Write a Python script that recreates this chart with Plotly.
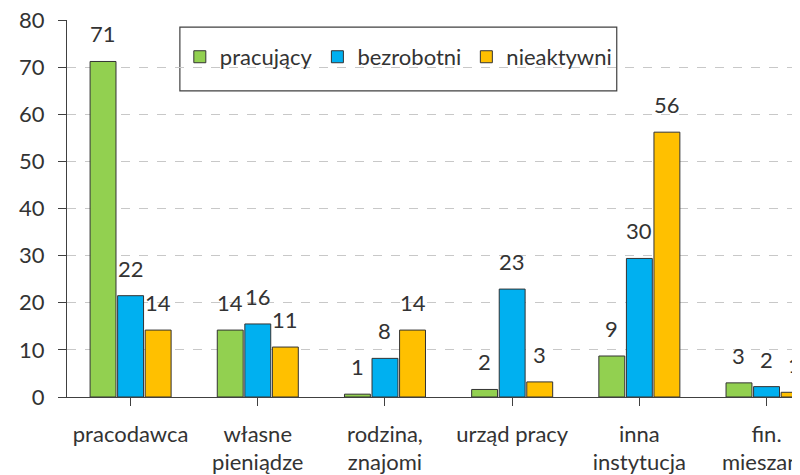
import plotly.graph_objects as go

categories = ["pracodawca", "własne<br>pieniądze", "rodzina,<br>znajomi",
              "urząd pracy", "inna<br>instytucja", "fin.<br>mieszane"]
series_names = ["pracujący", "bezrobotni", "nieaktywni"]
pracujacy = [71.2, 14.2, 0.6, 1.6, 8.7, 3.0]
bezrobotni = [21.5, 15.5, 8.2, 22.9, 29.4, 2.2]
nieaktywni = [14.2, 10.6, 14.2, 3.2, 56.2, 1.0]
labels_pracujacy = ["71", "14", "1", "2", "9", "3"]
labels_bezrobotni = ["22", "16", "8", "23", "30", "2"]
labels_nieaktywni = ["14", "11", "14", "3", "56", "1"]
y_ticks = [0, 10, 20, 30, 40, 50, 60, 70, 80]

colors = ["#92D050", "#00B0F0", "#FFC000"]
values = [pracujacy, bezrobotni, nieaktywni]
labels = [labels_pracujacy, labels_bezrobotni, labels_nieaktywni]

FONT = "Lato"
FS = 22
TXT = "#333333"
bargap = 0.35

fig = go.Figure()
xs = list(range(len(categories)))
for name, vals, col in zip(series_names, values, colors):
    fig.add_trace(go.Bar(
        x=xs, y=vals, name=name,
        marker=dict(color=col, line=dict(color="#333333", width=1)),
        cliponaxis=False,
    ))

# value labels above bars
slot = (1 - bargap) / len(series_names)
annotations = []
for k, (vals, labs) in enumerate(zip(values, labels)):
    off = (k - (len(series_names) - 1) / 2) * slot
    for i, (v, t) in enumerate(zip(vals, labs)):
        annotations.append(dict(
            x=i + off, y=v, xref="x", yref="y", text=t, showarrow=False,
            yanchor="bottom", yshift=12,
            font=dict(family=FONT, size=FS, color=TXT),
        ))

fig.update_layout(
    width=800, height=475,
    margin=dict(l=59, r=8, t=12, b=86, autoexpand=False),
    paper_bgcolor="white", plot_bgcolor="white",
    barmode="group", bargap=bargap, bargroupgap=0.06,
    font=dict(family=FONT, size=FS, color=TXT),
    annotations=annotations,
    showlegend=True,
    legend=dict(
        orientation="h", x=0.452, xanchor="center", y=0.902, yanchor="middle",
        bgcolor="rgba(0,0,0,0)", borderwidth=0,
        font=dict(family=FONT, size=FS, color=TXT),
        itemclick=False,
    ),
    shapes=[dict(
        type="rect", xref="paper", yref="paper",
        x0=0.154, x1=0.750, y0=0.812, y1=0.981,
        line=dict(color="#404040", width=1.2), fillcolor="white", layer="between",
    )],
)

fig.update_xaxes(
    tickmode="array", tickvals=xs, ticktext=categories,
    range=[-0.5, 5.263], automargin=False, ticklabeloverflow="allow",
    showline=True, linecolor="#404040", linewidth=1.2,
    ticks="outside", tickson="boundaries", ticklen=8, tickcolor="#404040",
    showgrid=False, zeroline=False,
    tickfont=dict(family=FONT, size=FS, color=TXT),
    ticklabelstandoff=9,
)
fig.update_yaxes(
    range=[0, 80], tickvals=y_ticks, automargin=False, ticklabeloverflow="allow",
    showline=True, linecolor="#404040", linewidth=1.2,
    ticks="outside", ticklen=8, tickcolor="#404040",
    showgrid=True, gridcolor="#C8C8C8", griddash="dash", gridwidth=1,
    zeroline=False,
    tickfont=dict(family=FONT, size=FS, color=TXT),
    ticklabelstandoff=9,
)

fig.write_html("out.html")
